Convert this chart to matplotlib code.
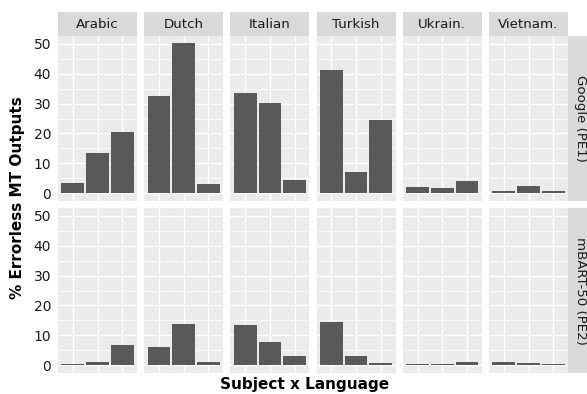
import matplotlib.pyplot as plt
from matplotlib.patches import Rectangle

languages = ["Arabic", "Dutch", "Italian", "Turkish", "Ukrain.", "Vietnam."]
systems = ["Google (PE1)", "mBART-50 (PE2)"]
subjects = [1, 2, 3]

# % errorless outputs per subject, one list per language
google_pe1 = [
    [3.4, 13.4, 20.4],
    [32.4, 50.1, 3.2],
    [33.4, 30.1, 4.4],
    [41.1, 7.1, 24.4],
    [2.1, 1.8, 4.1],
    [0.8, 2.4, 0.8],
]
mbart_pe2 = [
    [0.3, 1.2, 6.9],
    [6.2, 13.9, 1.2],
    [13.3, 7.9, 3.0],
    [14.3, 3.2, 0.6],
    [0.3, 0.3, 1.2],
    [1.2, 0.6, 0.3],
]
yticks = [0, 10, 20, 30, 40, 50]

W, H = 587, 394
panel_bg = "#ebebeb"
strip_bg = "#d9d9d9"
bar_color = "#595959"
text_color = "#1a1a1a"

fig = plt.figure(figsize=(W / 100, H / 100), dpi=100)

left0, pw, gap = 58, 79, 7.2
rows = [(36, 201), (208, 373)]


def px_box(x0, y0, x1, y1):
    return [x0 / W, 1 - y1 / H, (x1 - x0) / W, (y1 - y0) / H]


for r, (data, system) in enumerate(zip([google_pe1, mbart_pe2], systems)):
    y0, y1 = rows[r]
    for c, lang in enumerate(languages):
        x0 = left0 + c * (pw + gap)
        ax = fig.add_axes(px_box(x0, y0, x0 + pw, y1))
        ax.set_facecolor(panel_bg)
        ax.bar(subjects, data[c], width=0.92, color=bar_color, zorder=3)
        ax.set_xlim(0.4, 3.6)
        ax.set_ylim(-2.6, 52.6)
        ax.set_xticks(subjects)
        ax.set_yticks(yticks)
        ax.set_yticks([5, 15, 25, 35, 45], minor=True)
        ax.grid(True, which="major", color="white", lw=1.0, zorder=0)
        ax.grid(True, which="minor", axis="y", color="white", lw=0.5, zorder=0)
        ax.tick_params(which="both", length=0, labelbottom=False)
        if c == 0:
            ax.tick_params(axis="y", pad=5, labelsize=10, labelcolor=text_color)
        else:
            ax.tick_params(axis="y", labelleft=False)
        for s in ax.spines.values():
            s.set_visible(False)

        # column strips on top
        if r == 0:
            fig.patches.append(Rectangle(((x0) / W, 1 - 36 / H), pw / W, 24 / H,
                                         transform=fig.transFigure,
                                         facecolor=strip_bg, edgecolor="none"))
            fig.text((x0 + pw / 2) / W, 1 - 24 / H, lang, ha="center", va="center",
                     fontsize=9.6, color=text_color)

    # row strips on the right
    sx0 = left0 + 6 * pw + 5 * gap
    fig.patches.append(Rectangle((sx0 / W, 1 - y1 / H), 22 / W, (y1 - y0) / H,
                                 transform=fig.transFigure,
                                 facecolor=strip_bg, edgecolor="none"))
    fig.text((sx0 + 12) / W, 1 - (y0 + y1) / 2 / H, system, ha="center",
             va="center", rotation=-90, fontsize=9.6, color=text_color)

fig.text(18 / W, 1 - 198 / H, "% Errorless MT Outputs", rotation=90,
         ha="center", va="center", fontsize=11, fontweight="bold")
fig.text(305 / W, 1 - 385 / H, "Subject x Language", ha="center", va="center",
         fontsize=11, fontweight="bold")

fig.savefig("out.png", dpi=100)
